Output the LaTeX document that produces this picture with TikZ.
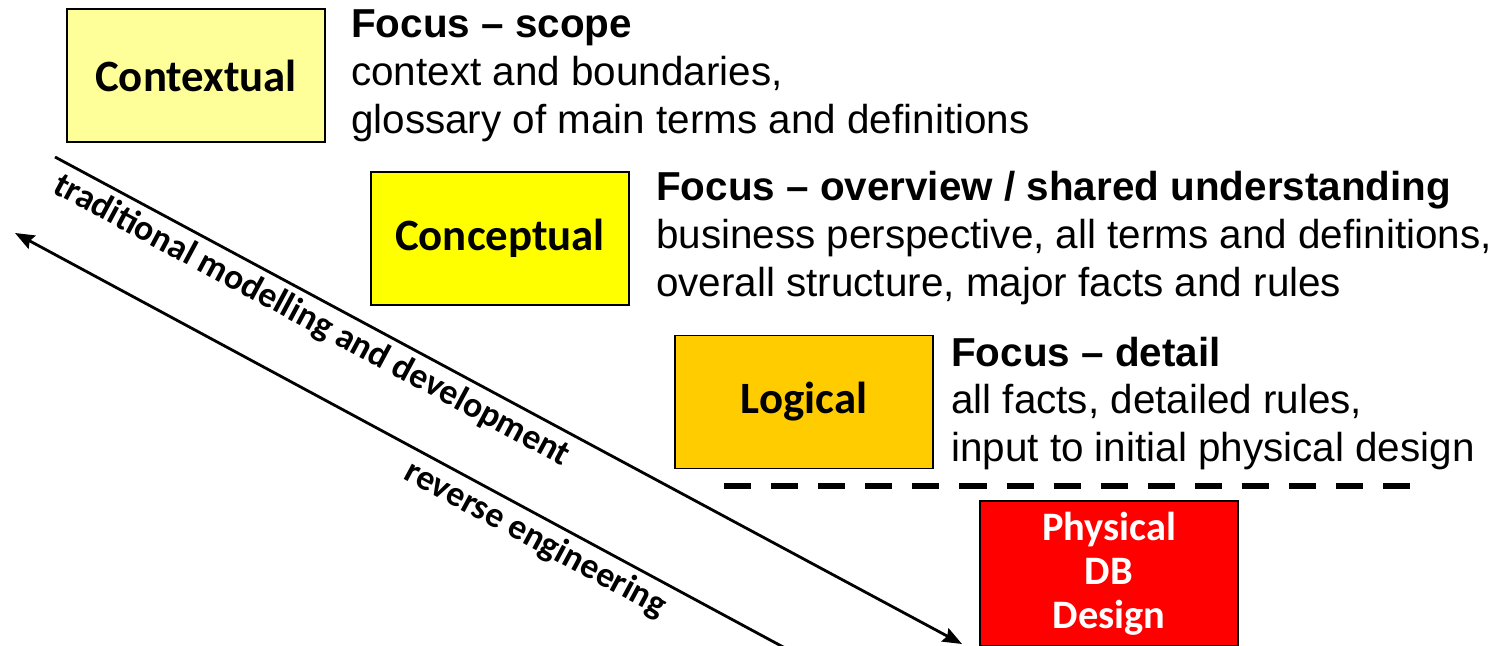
\documentclass[tikz,border=0pt]{standalone}
\usepackage{fontspec}
\setmainfont{Liberation Sans}
\newfontfamily\boxfont{Carlito}
\usetikzlibrary{arrows.meta,calc}
\definecolor{ctxyellow}{HTML}{FFFF99}
\definecolor{cptyellow}{HTML}{FFFF00}
\definecolor{logorange}{HTML}{FFCC00}
\definecolor{phyred}{HTML}{FF0000}
\tikzset{
  levelbox/.style={draw=black, line width=1pt, minimum width=5.16cm, minimum height=2.66cm,
    inner sep=0pt, font=\boxfont\bfseries\fontsize{25.5}{30}\selectfont},
  focustext/.style={anchor=base west, align=left, inner sep=0pt,
    font=\fontsize{23}{27.2}\selectfont},
  flowarrow/.style={line width=1.6pt},
  slopelabel/.style={sloped, below, font=\boxfont\bfseries\fontsize{20.3}{24}\selectfont}
}
\begin{document}
\begin{tikzpicture}[x=0.02cm, y=-0.02cm]
\useasboundingbox (0,0) rectangle (1506,645);
\clip (0,0) rectangle (1506,645);
% levels of the model
\node[levelbox, fill=ctxyellow] (contextual) at (196,75.5) {Contextual};
\node[levelbox, fill=cptyellow] (conceptual) at (500,238.5) {Conceptual};
\node[levelbox, fill=logorange] (logical) at (804,402) {Logical};
\node[levelbox, fill=phyred, text=white, anchor=north, minimum height=2.9cm, align=center,
  font=\boxfont\bfseries\fontsize{23}{25}\selectfont] (physical) at (1109,500) {Physical\\DB\\Design};
% focus of each level (base = last line)
\node[focustext] (ctxfocus) at ([shift={(25,125)}]contextual.north east)
  {\textbf{Focus – scope}\\context and boundaries,\\glossary of main terms and definitions};
\node[focustext] (cptfocus) at ([shift={(26,125)}]conceptual.north east)
  {\textbf{Focus – overview / shared understanding}\\business perspective, all terms and definitions,\\overall structure, major facts and rules};
\node[focustext] (logfocus) at ([shift={(17,127)}]logical.north east)
  {\textbf{Focus – detail}\\all facts, detailed rules,\\input to initial physical design};
% boundary to physical design
\coordinate (cut_w) at (724,486);
\coordinate (cut_e) at (1426,486);
\draw[line width=3.4pt, dash pattern=on 15.4pt off 11.4pt] (cut_w) -- (cut_e);
% direction of modelling
\coordinate (trad_start) at (55,157);
\coordinate (trad_end) at (962,644);
\coordinate (rev_end) at (15,233);
\coordinate (rev_start) at (785,648);
\draw[flowarrow, -{Stealth[length=11pt,width=8.5pt,inset=1.5pt]}] (trad_start) --
  node[slopelabel, pos=0.295] {traditional modelling and development} (trad_end);
\draw[flowarrow, {Stealth[length=11pt,width=8.5pt,inset=1.5pt]}-] (rev_end) --
  node[slopelabel, pos=0.69] {reverse engineering} (rev_start);
\end{tikzpicture}
\end{document}
